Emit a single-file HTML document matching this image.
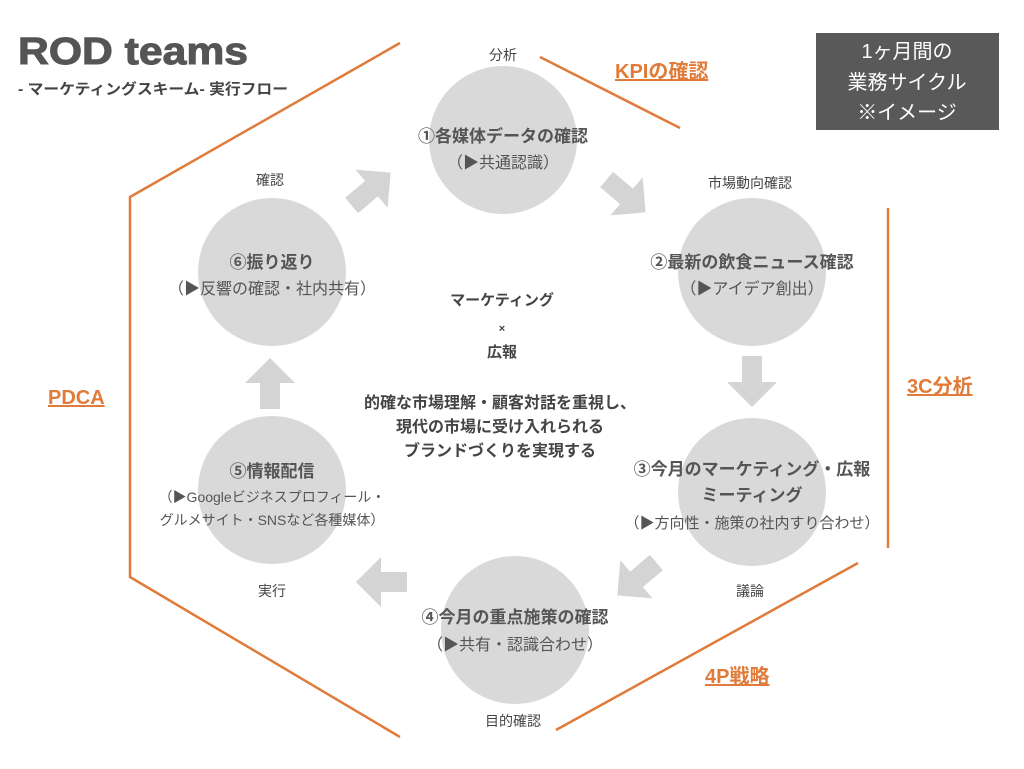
<!DOCTYPE html>
<html><head><meta charset="utf-8"><style>
body{margin:0;background:#fff;}
svg text{font-family:"Liberation Sans","Noto Sans CJK JP",sans-serif;}
</style></head><body>
<svg width="1024" height="764" viewBox="0 0 1024 764" xmlns="http://www.w3.org/2000/svg">
<defs>
<polygon id="ar" points="-24,-10 2,-10 2,-25 27,0 2,25 2,10 -24,10" fill="#d4d4d4"/>
</defs>
<g stroke="#e07b39" stroke-width="2.5" fill="none">
<polyline points="400,43 130,197 130,577 400,737"/>
<line x1="540" y1="57" x2="680" y2="128"/>
<line x1="888" y1="208" x2="888" y2="548"/>
<line x1="858" y1="563" x2="556" y2="730"/>
</g>
<g fill="#d9d9d9">
<circle cx="503" cy="140" r="74"/>
<circle cx="752" cy="272" r="74"/>
<circle cx="752" cy="492" r="74"/>
<circle cx="515" cy="630" r="74"/>
<circle cx="272" cy="490" r="74"/>
<circle cx="272" cy="272" r="74"/>
</g>
<use href="#ar" transform="translate(370,190) rotate(-40)"/>
<use href="#ar" transform="translate(625,195) rotate(40)"/>
<use href="#ar" transform="translate(752,380) rotate(90)"/>
<use href="#ar" transform="translate(638,578) rotate(140)"/>
<use href="#ar" transform="translate(383,582) rotate(180)"/>
<use href="#ar" transform="translate(270,385) rotate(-90)"/>
<text x="18" y="64" font-size="38" font-weight="bold" fill="#555" textLength="230" lengthAdjust="spacingAndGlyphs" stroke="#555" stroke-width="1">ROD teams</text>
<text x="18" y="94" font-size="15" font-weight="bold" fill="#444" textLength="270" lengthAdjust="spacingAndGlyphs">- マーケティングスキーム- 実行フロー</text>
<rect x="816" y="33" width="183" height="97" fill="#595959"/>
<g fill="#fff" font-size="20" text-anchor="middle">
<text x="907" y="58">1ヶ月間の</text>
<text x="907" y="89">業務サイクル</text>
<text x="907" y="119">※イメージ</text>
</g>
<g fill="#e07b39" font-size="20" font-weight="bold" text-decoration="underline">
<text x="615" y="78">KPIの確認</text>
<text x="907" y="393">3C分析</text>
<text x="48" y="404">PDCA</text>
<text x="705" y="683">4P戦略</text>
</g>
<g fill="#444" font-size="14" text-anchor="middle">
<text x="503" y="60">分析</text>
<text x="270" y="185">確認</text>
<text x="750" y="188">市場動向確認</text>
<text x="750" y="596">議論</text>
<text x="272" y="596">実行</text>
<text x="513" y="726">目的確認</text>
</g>
<g fill="#555" text-anchor="middle">
<text x="503" y="142" font-size="17" font-weight="bold">①各媒体データの確認</text>
<text x="503" y="168" font-size="16">（▶共通認識）</text>
<text x="752" y="268" font-size="17" font-weight="bold">②最新の飲食ニュース確認</text>
<text x="752" y="294" font-size="16">（▶アイデア創出）</text>
<text x="752" y="475" font-size="17" font-weight="bold">③今月のマーケティング・広報</text>
<text x="752" y="501" font-size="17" font-weight="bold">ミーティング</text>
<text x="752" y="528" font-size="15">（▶方向性・施策の社内すり合わせ）</text>
<text x="515" y="623" font-size="17" font-weight="bold">④今月の重点施策の確認</text>
<text x="515" y="650" font-size="16">（▶共有・認識合わせ）</text>
<text x="272" y="477" font-size="17" font-weight="bold">⑤情報配信</text>
<text x="272" y="502" font-size="14">（▶Googleビジネスプロフィール・</text>
<text x="272" y="525" font-size="14">グルメサイト・SNSなど各種媒体）</text>
<text x="272" y="268" font-size="17" font-weight="bold">⑥振り返り</text>
<text x="272" y="294" font-size="16">（▶反響の確認・社内共有）</text>
</g>
<g fill="#444" font-size="15" font-weight="bold" text-anchor="middle">
<text x="502" y="305">マーケティング</text>
<text x="502" y="332" font-size="11">×</text>
<text x="502" y="357">広報</text>
<text x="500" y="408" font-size="16">的確な市場理解・顧客対話を重視し、</text>
<text x="500" y="432" font-size="16">現代の市場に受け入れられる</text>
<text x="500" y="456" font-size="16">ブランドづくりを実現する</text>
</g>
</svg>
</body></html>
